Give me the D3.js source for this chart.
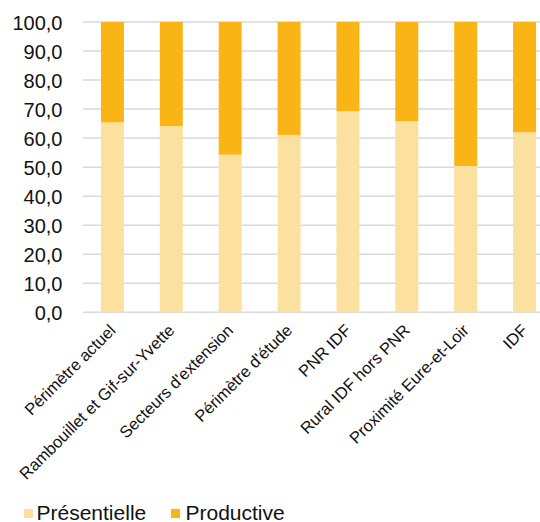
<!DOCTYPE html>
<html>
<head>
<meta charset="utf-8">
<script src="https://cdn.jsdelivr.net/npm/d3@7"></script>
<style>
  html, body { margin: 0; padding: 0; background: #fff; }
  svg { display: block; font-family: "Liberation Sans", Arial, sans-serif; }
</style>
</head>
<body>
<svg id="chart" width="540" height="522"></svg>
<script>
const categories = ["Périmètre actuel", "Rambouillet et Gif-sur-Yvette", "Secteurs d'extension", "Périmètre d'étude", "PNR IDF", "Rural IDF hors PNR", "Proximité Eure-et-Loir", "IDF"];
const presentielle = [65.4, 64.1, 54.3, 61.1, 69.3, 65.8, 50.4, 62.0];
const productive = [34.6, 35.9, 45.7, 38.9, 30.7, 34.2, 49.6, 38.0];
const seriesNames = ["Présentielle", "Productive"];
const seriesColors = ["#FCE09F", "#F9B515"];
const yTicks = [0, 10, 20, 30, 40, 50, 60, 70, 80, 90, 100];

const svg = d3.select("#chart");
const plotLeft = 83, plotRight = 554, plotTop = 22, plotBottom = 312.3, gridRight = 540;

const x = d3.scaleBand().domain(categories).range([plotLeft, plotRight])
  .paddingInner(0.61).paddingOuter(0.305);
const y = d3.scaleLinear().domain([0, 100]).range([plotBottom, plotTop]);

// gridlines
svg.append("g").selectAll("line").data(yTicks).join("line")
  .attr("x1", plotLeft).attr("x2", gridRight)
  .attr("y1", d => y(d)).attr("y2", d => y(d))
  .attr("stroke", "#D9D9D9").attr("stroke-width", 1.5);

// y axis labels
const fmt = v => v.toFixed(1).replace(".", ",");
const yAxis = d3.axisLeft(y).tickValues(yTicks).tickFormat(fmt).tickSize(0).tickPadding(0);
const yg = svg.append("g").attr("transform", `translate(62.5,0)`).call(yAxis);
yg.select(".domain").remove();
yg.selectAll("text").attr("font-size", 20).attr("fill", "#111")
  .attr("font-family", "Liberation Sans, Arial, sans-serif").attr("dy", "0.36em");

// stacked data
const rows = categories.map((c, i) => ({ cat: c, "Présentielle": presentielle[i], "Productive": productive[i] }));
const stack = d3.stack().keys(seriesNames)(rows);

svg.append("g").selectAll("g").data(stack).join("g")
  .attr("fill", (d, i) => seriesColors[i])
  .selectAll("rect").data(d => d).join("rect")
  .attr("x", d => x(d.data.cat))
  .attr("width", x.bandwidth())
  .attr("y", d => y(d[1]))
  .attr("height", d => y(d[0]) - y(d[1]));

// x axis labels
const xAxis = d3.axisBottom(x).tickSize(0).tickPadding(0);
const xg = svg.append("g").attr("transform", `translate(0,${plotBottom + 15})`).call(xAxis);
xg.select(".domain").remove();
xg.selectAll("text")
  .attr("font-size", 16.5).attr("fill", "#111")
  .attr("font-family", "Liberation Sans, Arial, sans-serif")
  .attr("text-anchor", "end")
  .attr("dy", "0.35em").attr("y", 0)
  .attr("transform", "rotate(-45)");

// legend
const legendItems = [{ x: 24, tx: 36.5 }, { x: 171, tx: 185.5 }];
const lg = svg.append("g");
seriesNames.forEach((name, i) => {
  lg.append("rect").attr("x", legendItems[i].x).attr("y", 509)
    .attr("width", 9).attr("height", 9).attr("fill", seriesColors[i]);
  lg.append("text").attr("x", legendItems[i].tx).attr("y", 519.5)
    .attr("font-size", 21).attr("fill", "#111").text(name);
});
</script>
</body>
</html>
